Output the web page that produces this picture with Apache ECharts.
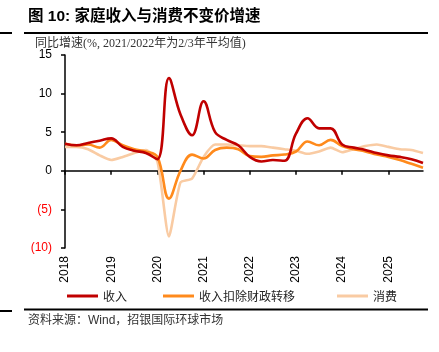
<!DOCTYPE html>
<html><head><meta charset="utf-8">
<script src="https://cdn.jsdelivr.net/npm/echarts@6/dist/echarts.min.js"></script>
<style>html,body{margin:0;padding:0;background:#fff}#c{width:439px;height:352px}</style>
</head><body><div id="c"></div>
<script>
const quarters = ['2018Q1','2018Q2','2018Q3','2018Q4','2019Q1','2019Q2','2019Q3','2019Q4',
  '2020Q1','2020Q2','2020Q3','2020Q4','2021Q1','2021Q2','2021Q3','2021Q4',
  '2022Q1','2022Q2','2022Q3','2022Q4','2023Q1','2023Q2','2023Q3','2023Q4',
  '2024Q1','2024Q2','2024Q3','2024Q4','2025Q1','2025Q2','2025Q3','2025Q4'];
const income = [3.5,3.3,3.6,3.9,4.2,3.1,2.6,2.3, 1.5,12.0,7.3,4.6,9.0,5.0,4.0,3.3,
  1.8,1.2,1.4,1.3,4.8,6.8,5.5,5.5, 3.4,3.0,2.7,2.3,2.0,1.8,1.5,1.0];
const incomeExTransfer = [3.5,3.3,3.4,3.0,4.0,3.3,2.8,2.5, 1.8,-3.6,0.0,2.1,1.6,2.7,3.0,2.8,
  1.9,1.8,2.0,2.1,2.5,3.8,3.3,4.0, 3.2,2.8,2.5,2.1,1.8,1.4,0.9,0.4];
const consumption = [3.1,3.1,2.8,2.0,1.4,1.8,2.3,2.7, 1.2,-8.5,-1.5,-1.0,1.8,3.4,3.4,3.3,
  3.2,3.2,3.0,2.8,2.6,2.2,2.5,3.0, 2.4,2.8,3.2,3.4,3.1,2.8,2.7,2.3];
const seriesNames = ['收入','收入扣除财政转移','消费'];
const yTicks = {min:-10, max:15, interval:5};

const cjk = '"Liberation Sans","Noto Sans CJK SC",sans-serif';
const legendCommon = {top:290, padding:0, itemWidth:31, itemHeight:3, icon:'rect', itemGap:0,
  textStyle:{fontSize:12, color:'#222', fontFamily:'"Noto Sans CJK SC",sans-serif'}};
const chart = echarts.init(document.getElementById('c'), null, {renderer:'canvas'});
chart.setOption({
  animation:false,
  backgroundColor:'#fff',
  grid:{left:65,right:16,top:55,bottom:104},
  legend:[
    Object.assign({data:[seriesNames[0]], left:67}, legendCommon),
    Object.assign({data:[seriesNames[1]], left:163}, legendCommon),
    Object.assign({data:[seriesNames[2]], left:337}, legendCommon)
  ],
  xAxis:[{
    type:'category', data:quarters, boundaryGap:false,
    axisLine:{onZero:true, lineStyle:{color:'#000', width:1.5}},
    axisTick:{show:true, interval:3, length:4, lineStyle:{color:'#000', width:1.5}},
    axisLabel:{show:false}, splitLine:{show:false}
  },{
    type:'category', data:quarters, boundaryGap:false, position:'bottom',
    axisLine:{show:false, onZero:false}, axisTick:{show:false},
    axisLabel:{interval:3, rotate:90, margin:8, fontSize:12, color:'#000',
      fontFamily:'"Liberation Sans",Arial,sans-serif', formatter:v=>v.slice(0,4)}
  }],
  yAxis:{
    type:'value', min:yTicks.min, max:yTicks.max, interval:yTicks.interval,
    axisLine:{show:true, lineStyle:{color:'#000', width:1.5}},
    axisTick:{show:true, length:4, lineStyle:{color:'#000', width:1.5}},
    splitLine:{show:false},
    axisLabel:{margin:13, fontSize:12, fontFamily:'"Liberation Sans",Arial,sans-serif',
      color:v=> (Number(v) < 0 ? '#FF0000' : '#000'),
      formatter:v=> v < 0 ? '(' + (-v) + ')' : String(v)}
  },
  series:[
    {name:seriesNames[2], type:'line', data:consumption, smooth:0.2, symbol:'none', z:2,
      lineStyle:{color:'#F9CBA3', width:2.6}, itemStyle:{color:'#F9CBA3'}},
    {name:seriesNames[1], type:'line', data:incomeExTransfer, smooth:0.4, symbol:'none', z:3,
      lineStyle:{color:'#FF8A1C', width:2.6}, itemStyle:{color:'#FF8A1C'}},
    {name:seriesNames[0], type:'line', data:income, smooth:0.4, symbol:'none', z:4,
      lineStyle:{color:'#C00000', width:2.6}, itemStyle:{color:'#C00000'}}
  ],
  graphic:[
    {type:'text', left:28, top:9, style:{text:'图 10: 家庭收入与消费不变价增速',
      fill:'#000', font:'bold 15.5px '+cjk}},
    {type:'rect', shape:{x:24, y:32, width:404, height:2}, style:{fill:'#000'}},
    {type:'rect', shape:{x:0, y:32, width:12, height:2}, style:{fill:'#000'}},
    {type:'text', left:35, top:38, style:{text:'同比增速(%, 2021/2022年为2/3年平均值)',
      font:'12px "Liberation Serif","Noto Sans CJK SC",serif', fill:'#333'}},
    {type:'rect', shape:{x:24, y:308.5, width:404, height:2}, style:{fill:'#000'}},
    {type:'rect', shape:{x:0, y:310, width:12, height:2}, style:{fill:'#000'}},
    {type:'text', left:28, top:315, style:{text:'资料来源：Wind，招银国际环球市场',
      font:'12px '+cjk, fill:'#333'}}
  ]
});
</script></body></html>
